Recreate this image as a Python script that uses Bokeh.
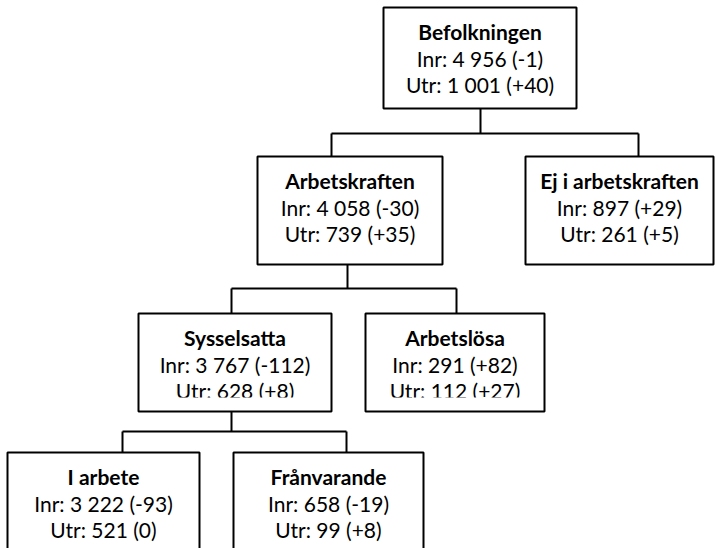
from bokeh.plotting import figure
from bokeh.models import Range1d
from bokeh.embed import file_html
from bokeh.resources import INLINE
from bokeh.core.properties import value

# ---- data ----
names = ["Befolkningen", "Arbetskraften", "Ej i arbetskraften", "Sysselsatta",
         "Arbetslösa", "I arbete", "Frånvarande"]
inr = [4956, 4058, 897, 3767, 291, 3222, 658]
inr_change = [-1, -30, 29, -112, 82, -93, -19]
utr = [1001, 739, 261, 628, 112, 521, 99]
utr_change = [40, 35, 5, 8, 27, 0, 8]
parent = [None, 0, 0, 1, 1, 3, 3]

# ---- layout (page pixel coordinates) ----
box_left = [383, 257, 525, 138, 365, 7, 233]
box_right = [576, 442, 713, 331, 544, 199, 423]
box_top = [7, 156, 156, 313, 313, 452, 452]
box_bottom = [108, 264, 264, 411, 411, 580, 580]
in_x = [480, 331, 638, 231, 456, 122, 346]      # connector x at top of box
out_x = [480, 347, None, 231, None, None, None]  # connector x below box
bar_y = {0: 133, 1: 288, 3: 431}
text_clip = [None, None, None, 397, 397, None, None]

FONT = "Lato"
SIZE = "21px"
W, H = 716, 548


def fmt_num(v):
    return f"{v:,}".replace(",", " ")


def fmt_chg(v):
    if v > 0:
        return f"(+{v})"
    if v < 0:
        return f"(-{abs(v)})"
    return "(0)"


p = figure(width=W, height=H, output_backend="svg", toolbar_location=None,
           x_range=Range1d(0, W), y_range=Range1d(H, 0), min_border=0)
p.axis.visible = False
p.grid.visible = False
p.outline_line_color = None
p.background_fill_color = "white"
p.border_fill_color = "white"

# connectors
xs, ys = [], []
for i, par in enumerate(parent):
    if par is None:
        continue
    by = bar_y[par]
    xs.append([in_x[i], in_x[i]])
    ys.append([by, box_top[i]])
for par, by in bar_y.items():
    kids = [i for i, q in enumerate(parent) if q == par]
    kx = [in_x[i] for i in kids]
    xs.append([min(kx), max(kx)])
    ys.append([by, by])
    xs.append([out_x[par], out_x[par]])
    ys.append([box_bottom[par], by])
p.multi_line(xs, ys, line_color="black", line_width=2)

# boxes
p.quad(left=box_left, right=box_right, top=box_top, bottom=box_bottom,
       fill_color="white", line_color="black", line_width=2)

cx = [(a + b) / 2 for a, b in zip(box_left, box_right)]
ty = [t + 24 for t in box_top]
iy = [t + 50.5 for t in box_top]
uy = [t + 76.5 for t in box_top]
inr_txt = [f"Inr: {fmt_num(v)} {fmt_chg(c)}" for v, c in zip(inr, inr_change)]
utr_txt = [f"Utr: {fmt_num(v)} {fmt_chg(c)}" for v, c in zip(utr, utr_change)]

p.text(x=cx, y=ty, text=names, text_font=value(FONT), text_font_size=SIZE,
       text_font_style="bold", text_align="center", text_baseline="middle",
       text_color="black")
p.text(x=cx, y=iy, text=inr_txt, text_font=value(FONT), text_font_size=SIZE,
       text_align="center", text_baseline="middle", text_color="black")
p.text(x=cx, y=uy, text=utr_txt, text_font=value(FONT), text_font_size=SIZE,
       text_align="center", text_baseline="middle", text_color="black")

# text clipping inside some boxes
ml, mr, mt, mb = [], [], [], []
for i, c in enumerate(text_clip):
    if c is None:
        continue
    ml.append(box_left[i] + 1.5)
    mr.append(box_right[i] - 1.5)
    mt.append(c)
    mb.append(box_bottom[i] - 1.5)
p.quad(left=ml, right=mr, top=mt, bottom=mb, fill_color="white", line_color=None)

open("out.html", "w").write(file_html(p, INLINE))
